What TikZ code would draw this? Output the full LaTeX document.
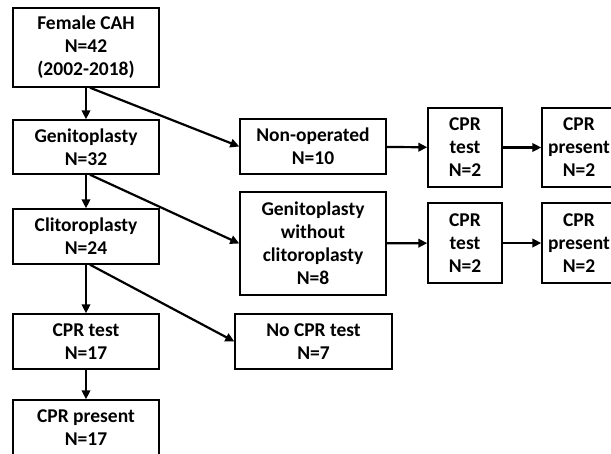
\documentclass[tikz,border=0pt]{standalone}
\usepackage{fontspec}
\setmainfont{Carlito}
\usetikzlibrary{arrows.meta}

\begin{document}
\begin{tikzpicture}[x=1pt,y=-1pt,
    box/.style={draw,line width=1.4pt,align=center,inner sep=0pt,
      font=\fontsize{19.5}{23}\selectfont\bfseries},
    arr/.style={-{Triangle[length=9pt,width=8.5pt]},line width=2.2pt}]
        \useasboundingbox (0,0) rectangle (611,453);
        \clip (0,0) rectangle (611,453);
        % left column
        \node[box,minimum width=146pt,minimum height=79pt] (cah) at (86,47.5) {Female CAH\\N=42\\(2002-2018)};
        \node[box,minimum width=146pt,minimum height=54pt] (geni) at (86,147) {Genitoplasty\\N=32};
        \node[box,minimum width=146pt,minimum height=55pt] (clito) at (86,236.5) {Clitoroplasty\\N=24};
        \node[box,minimum width=146pt,minimum height=55pt] (test17) at (86,341.5) {CPR test\\N=17};
        \node[box,minimum width=146pt,minimum height=56pt] (pres17) at (86,428) {CPR present\\N=17};
        % middle column
        \node[box,minimum width=146pt,minimum height=55pt] (nonop) at (313,146.5) {Non-operated\\N=10};
        \node[box,minimum width=146pt,minimum height=103pt] (genwo) at (313,243.5) {Genitoplasty\\without\\clitoroplasty\\N=8};
        \node[box,minimum width=157pt,minimum height=55pt] (nocpr) at (313.5,341.5) {No CPR test\\N=7};
        % right columns
        \node[box,minimum width=74pt,minimum height=79pt] (testa) at (465,147.5) {CPR\\test\\N=2};
        \node[box,minimum width=74pt,minimum height=79pt] (presa) at (579,147.5) {CPR\\present\\N=2};
        \node[box,minimum width=74pt,minimum height=80pt] (testb) at (465,243) {CPR\\test\\N=2};
        \node[box,minimum width=74pt,minimum height=80pt] (presb) at (579,243) {CPR\\present\\N=2};
        % arrows down
        \draw[arr] (cah) -- (geni);
        \draw[arr] (geni) -- (clito);
        \draw[arr] (clito) -- (test17);
        \draw[arr] (test17) -- (pres17);
        % arrows across
        \draw[arr] ([xshift=4pt]cah.south) -- (nonop.west);
        \draw[arr] ([xshift=4pt]geni.south) -- (genwo.west);
        \draw[arr] ([xshift=4pt]clito.south) -- (nocpr.west);
        \draw[arr] (nonop) -- (testa);
        \draw[arr] (testa) -- (presa);
        \draw[arr] (genwo) -- (testb);
        \draw[arr] (testb) -- (presb);
      \end{tikzpicture}
\end{document}
